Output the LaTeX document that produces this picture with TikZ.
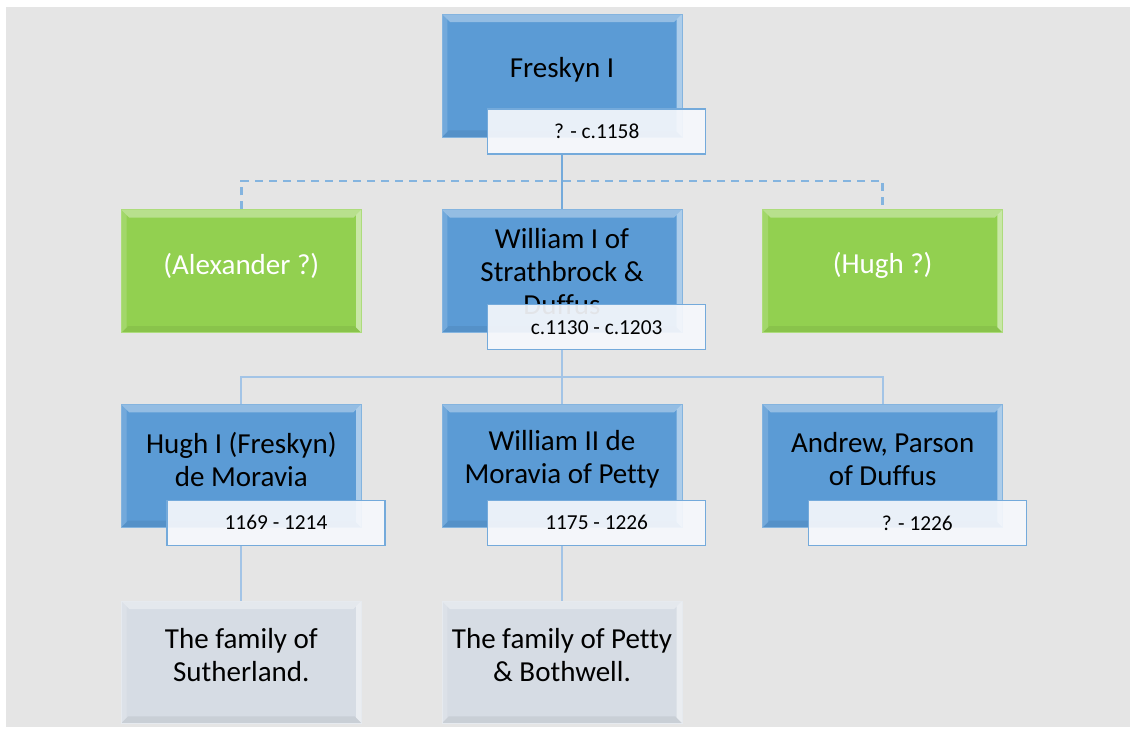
\documentclass[tikz,border=0pt]{standalone}
\usepackage{fontspec}
\setmainfont{Carlito}[Ligatures=CommonOff]
\usetikzlibrary{positioning, calc}

\definecolor{bgGray}{HTML}{E5E5E5}
\definecolor{boxBlue}{HTML}{5B9BD5}
\definecolor{boxGreen}{HTML}{92D050}
\definecolor{boxGray}{HTML}{D6DCE4}
\definecolor{lineBlue}{HTML}{A3C4E6}
\definecolor{dateFill}{HTML}{F6F8FC}

\begin{document}
\begin{tikzpicture}[
	x=0.75pt, y=-0.75pt,
	font=\fontsize{21.75}{24.75}\selectfont,
	bevel/.style={path picture={
		\fill[white, opacity=.35] (path picture bounding box.north west) -- (path picture bounding box.north east)
			-- ([xshift=-6pt,yshift=-6pt]path picture bounding box.north east) -- ([xshift=6pt,yshift=-6pt]path picture bounding box.north west) -- cycle;
		\fill[white, opacity=.5] (path picture bounding box.north east) -- (path picture bounding box.south east)
			-- ([xshift=-4pt,yshift=4pt]path picture bounding box.south east) -- ([xshift=-4pt,yshift=-4pt]path picture bounding box.north east) -- cycle;
		\fill[white, opacity=.15] (path picture bounding box.north west) -- (path picture bounding box.south west)
			-- ([xshift=4pt,yshift=4pt]path picture bounding box.south west) -- ([xshift=4pt,yshift=-4pt]path picture bounding box.north west) -- cycle;
		\fill[black, opacity=.06] (path picture bounding box.south west) -- (path picture bounding box.south east)
			-- ([xshift=-5pt,yshift=5pt]path picture bounding box.south east) -- ([xshift=5pt,yshift=5pt]path picture bounding box.south west) -- cycle;
	}},
	pbox/.style={fill=boxBlue, draw=boxBlue!75!white, line width=.5pt, minimum width=180pt, minimum height=92.25pt, inner sep=0pt, bevel},
	gbox/.style={pbox, fill=boxGreen, draw=boxGreen!75!white},
	fbox/.style={pbox, fill=boxGray, draw=boxGray!60!white, minimum height=91.5pt},
	mtext/.style={align=center, inner sep=0pt, text=black},
	datebox/.style={fill=dateFill, fill opacity=.92, text opacity=1, draw=boxBlue!85!white, line width=1pt,
		minimum width=163.5pt, minimum height=33.75pt, inner sep=0pt, font=\fontsize{16}{18}\selectfont},
	conn/.style={draw=lineBlue, line width=1.6pt},
	conn-main/.style={draw=boxBlue!85!white, line width=2pt},
	conn-dash/.style={draw=boxBlue!75!white, line width=2pt, dash pattern=on 6pt off 4.5pt}
	]
	
	% Background
	\useasboundingbox (0,0) rectangle (1130,732);
	\fill[bgGray] (6,7) rectangle (1130,727);
	
	% Top
	\node[pbox] (fresk) at (562,75.5) {};
	\node[mtext] (fresk-t) at ([yshift=4pt]fresk.center) {Freskyn I};
	\node[datebox, anchor=north east] (fresk-d) at ([xshift=18pt,yshift=21.75pt]fresk.south east) {? - c.1158};
	
	% Second row
	\node[pbox, below=54pt of fresk] (will) {};
	\node[gbox, left=60pt of will] (alex) {};
	\node[gbox, right=60pt of will] (hughq) {};
	\node[mtext] (will-t) at (will.center) {William I of\\Strathbrock \&\\Duffus};
	\node[mtext, text=white] (alex-t) at ([yshift=4pt]alex.center) {(Alexander ?)};
	\node[mtext, text=white] (hughq-t) at ([yshift=4pt]hughq.center) {(Hugh ?)};
	\node[datebox, anchor=north east] (will-d) at ([xshift=18pt,yshift=21.75pt]will.south east) {c.1130 - c.1203};
	
	% Third row
	\node[pbox, below=53.25pt of will] (will2) {};
	\node[pbox, left=60pt of will2] (hugh) {};
	\node[pbox, right=60pt of will2] (andrew) {};
	\node[mtext] (hugh-t) at ([yshift=5pt]hugh.center) {Hugh I (Freskyn)\\de Moravia};
	\node[mtext] (will2-t) at ([yshift=5pt]will2.center) {William II de\\Moravia of Petty};
	\node[mtext] (andrew-t) at ([yshift=5pt]andrew.center) {Andrew, Parson\\of Duffus};
	\node[datebox, anchor=north east] (hugh-d) at ([xshift=18pt,yshift=21pt]hugh.south east) {1169 - 1214};
	\node[datebox, anchor=north east] (will2-d) at ([xshift=18pt,yshift=21pt]will2.south east) {1175 - 1226};
	\node[datebox, anchor=north east] (andrew-d) at ([xshift=18pt,yshift=21pt]andrew.south east) {? - 1226};
	
	% Families
	\node[fbox, below=54.75pt of hugh] (famS) {};
	\node[fbox, below=54.75pt of will2] (famP) {};
	\node[mtext] (famS-t) at ([yshift=5pt]famS.center) {The family of\\Sutherland.};
	\node[mtext] (famP-t) at ([yshift=5pt]famP.center) {The family of Petty\\\& Bothwell.};
	
	% Connectors
	\coordinate (busA) at (562,181);
	\coordinate (busB) at (562,377);
	\draw[conn-dash] (alex.north) |- (busA) -| (hughq.north);
	\draw[conn-main] (fresk.south |- fresk-d.south) -- (will.north);
	\draw[conn] (will.south |- will-d.south) -- (busB) -- (will2.north);
	\draw[conn] (hugh.north) |- (busB) -| (andrew.north);
	\draw[conn] (hugh.south |- hugh-d.south) -- (famS.north);
	\draw[conn] (will2.south |- will2-d.south) -- (famP.north);
	
\end{tikzpicture}
\end{document}
